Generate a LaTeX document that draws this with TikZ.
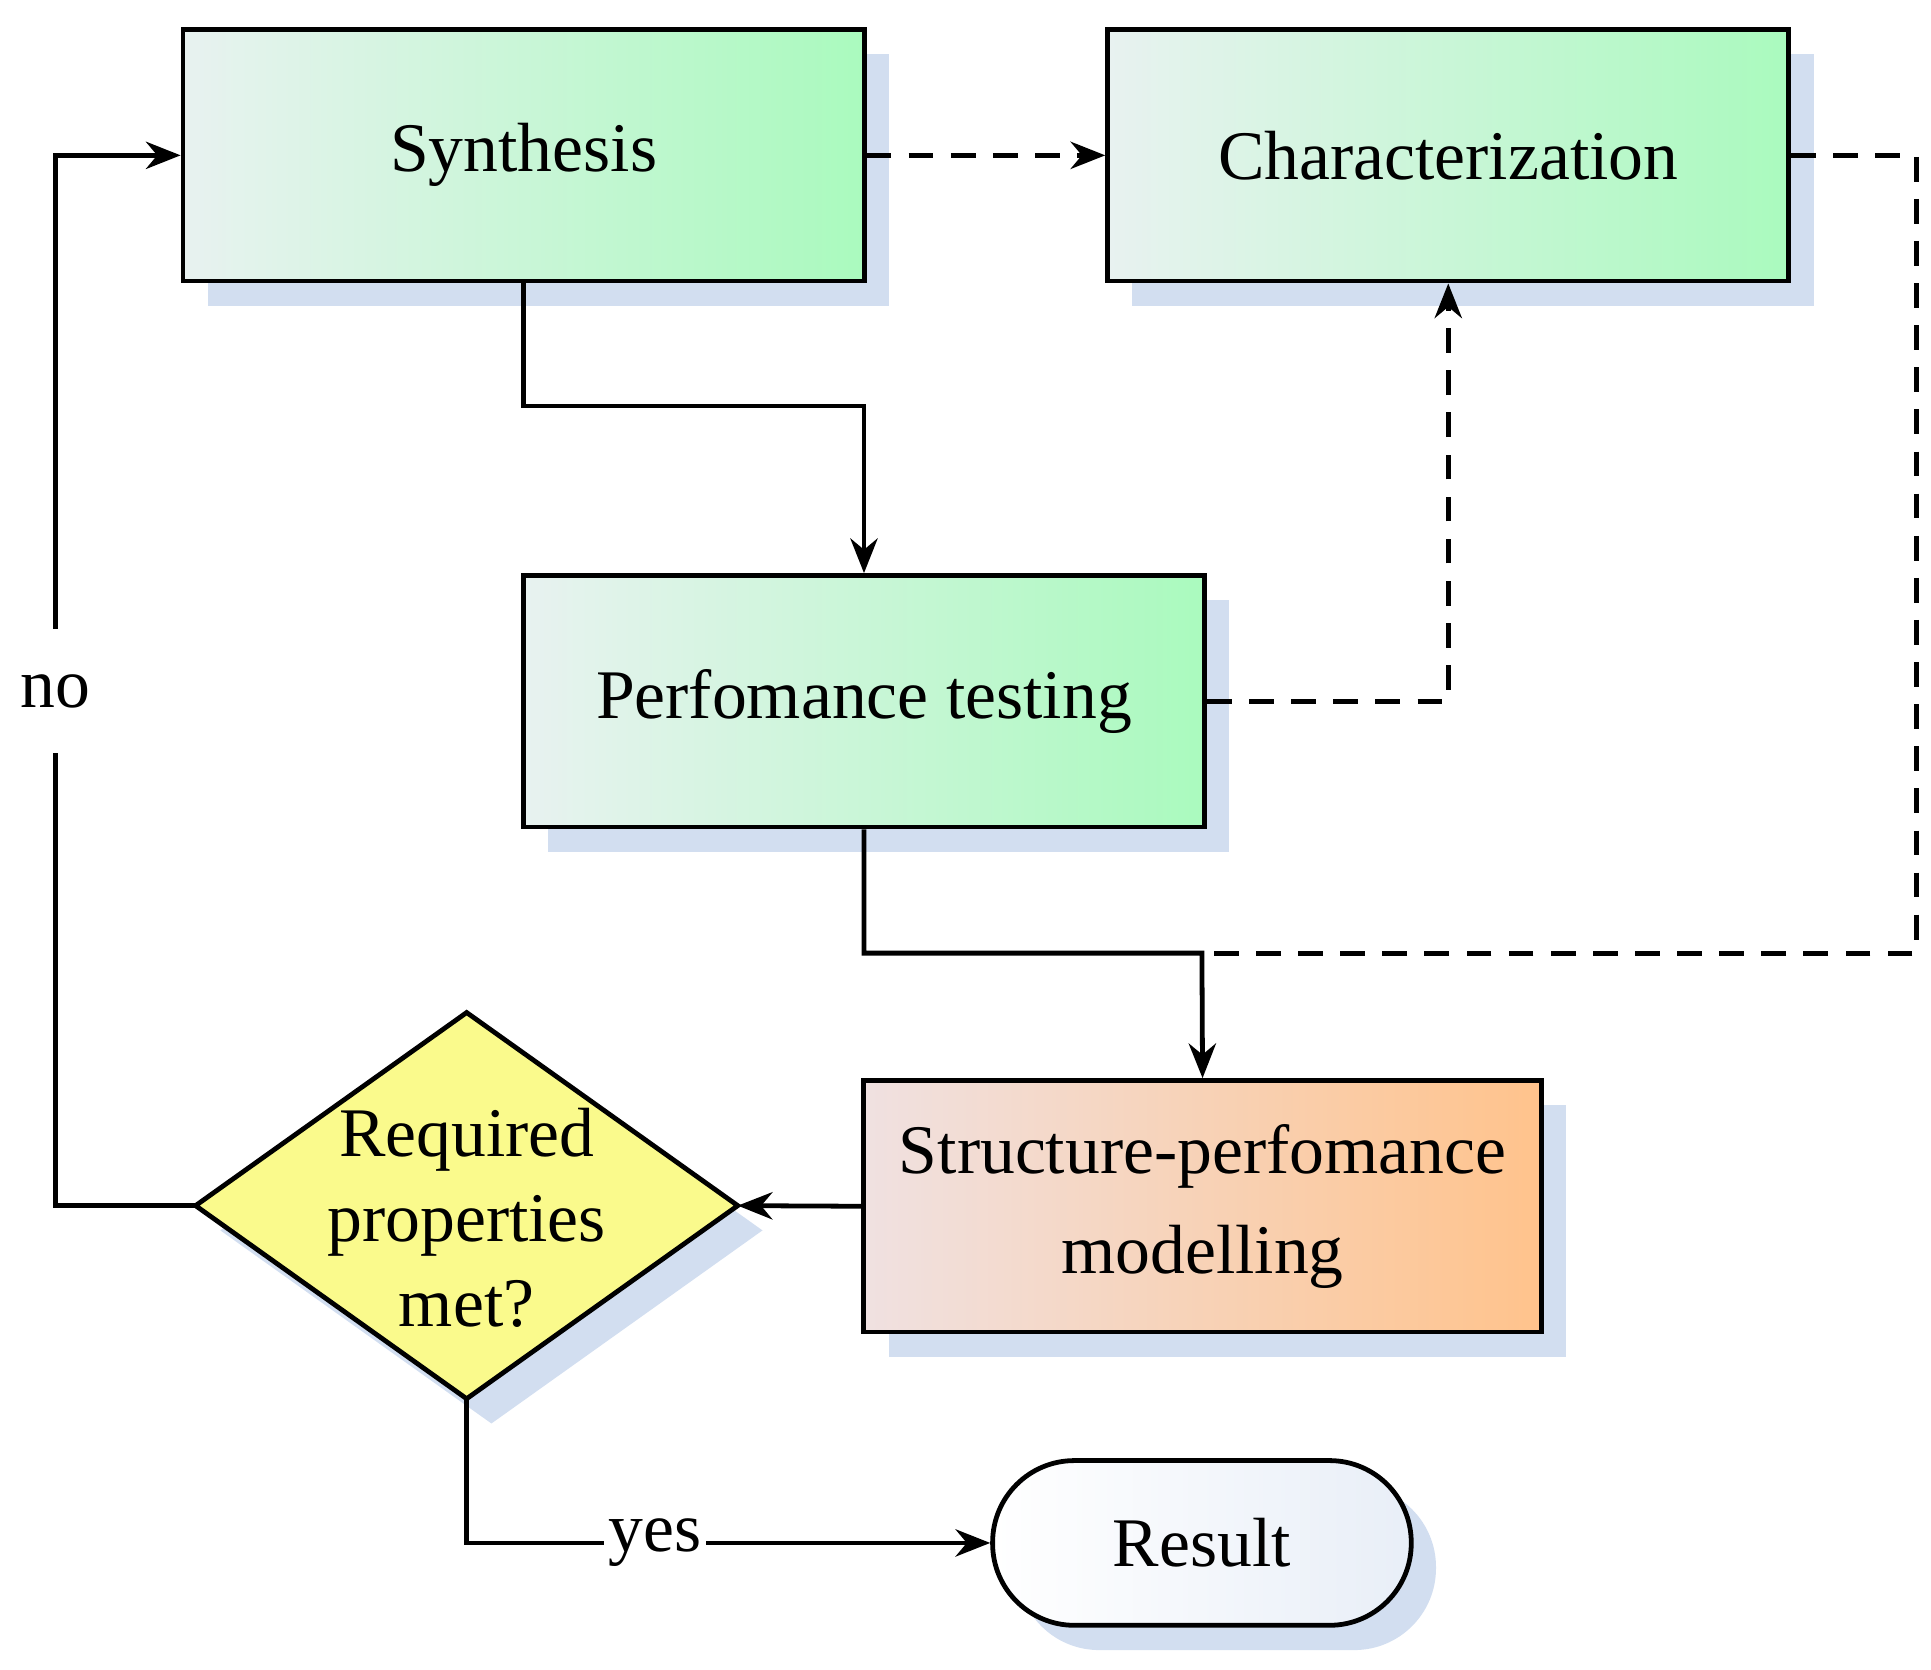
\documentclass[tikz,border=0pt]{standalone}
\usepackage{fontspec}
\setmainfont{Liberation Serif}
\usetikzlibrary{arrows.meta,shapes.geometric,shadows}
\definecolor{gr}{RGB}{170,250,190}
\definecolor{grl}{RGB}{232,242,240}
\definecolor{orl}{RGB}{240,225,225}
\definecolor{orr}{RGB}{255,195,140}
\definecolor{yel}{RGB}{250,250,140}
\definecolor{shc}{RGB}{210,222,240}
\begin{document}
\begin{tikzpicture}[x=0.01cm,y=-0.01cm,
 font=\fontsize{16}{19}\selectfont,
 sh/.style={general shadow={fill=shc,shadow xshift=0.2cm,shadow yshift=-0.2cm}},
 box/.style={draw,line width=1.1pt,minimum width=5.5cm,minimum height=2.03cm,sh,inner sep=0pt,align=center},
 gbox/.style={box,left color=grl,right color=gr},
 ar/.style={line width=1.1pt,-{Stealth[length=0.28cm,width=0.22cm]}},
 ln/.style={line width=1.1pt},
 da/.style={dash pattern=on 0.2cm off 0.14cm}]
\useasboundingbox (0,0) rectangle (1560,1349);
\node[gbox] (syn) at (423,125.5) {Synthesis};
\node[gbox] (cha) at (1170,125.5) {Characterization};
\node[gbox] (per) at (698,566.5) {Perfomance testing};
\node[box,minimum width=5.47cm,left color=orl,right color=orr,font=\fontsize{16}{23}\selectfont] (str) at (971.5,974.5) {Structure-perfomance\\modelling};
\coordinate (dl) at (158,974); \coordinate (dr) at (596,974);
\coordinate (dt) at (377,818); \coordinate (db) at (377,1130);
\fill[fill=shc] ([shift={(20,20)}]dl) -- ([shift={(20,20)}]dt) -- ([shift={(20,20)}]dr) -- ([shift={(20,20)}]db) -- cycle;
\filldraw[fill=yel,line width=1.1pt] (dl) -- (dt) -- (dr) -- (db) -- cycle;
\node[align=center,font=\fontsize{16}{19.5}\selectfont] (dia) at (377,984) {Required\\properties\\met?};
\node[draw,line width=1.1pt,rounded corners=0.66cm,minimum width=3.38cm,minimum height=1.33cm,left color=white,right color=shc!50,sh] (res) at (971,1246.5) {Result};
\coordinate (m) at (971,770);
\draw[ar,da] (syn.east) -- (cha.west);
\draw[ln,da] (cha.east) -- (1548,125.5) -- (1548,770) -- (m);
\draw[ar] (syn.south) -- (423,328) -- (698,328) -- (per.north);
\draw[ar,da] (per.east) -- (1170,566.5) -- (cha.south);
\draw[ar] (per.south) -- (698,770) -- (m) -- (str.north);
\draw[ar] (str.west) -- (dr);
\draw[ar] (dl) -- (45,974) -- node[pos=0.49,fill=white,inner sep=2pt,minimum height=1cm]{no} (45,125.5) -- (syn.west);
\draw[ar] (db) -- (377,1246.5) -- node[pos=0.36,fill=white,inner sep=1pt]{yes} (res.west);
\end{tikzpicture}
\end{document}
